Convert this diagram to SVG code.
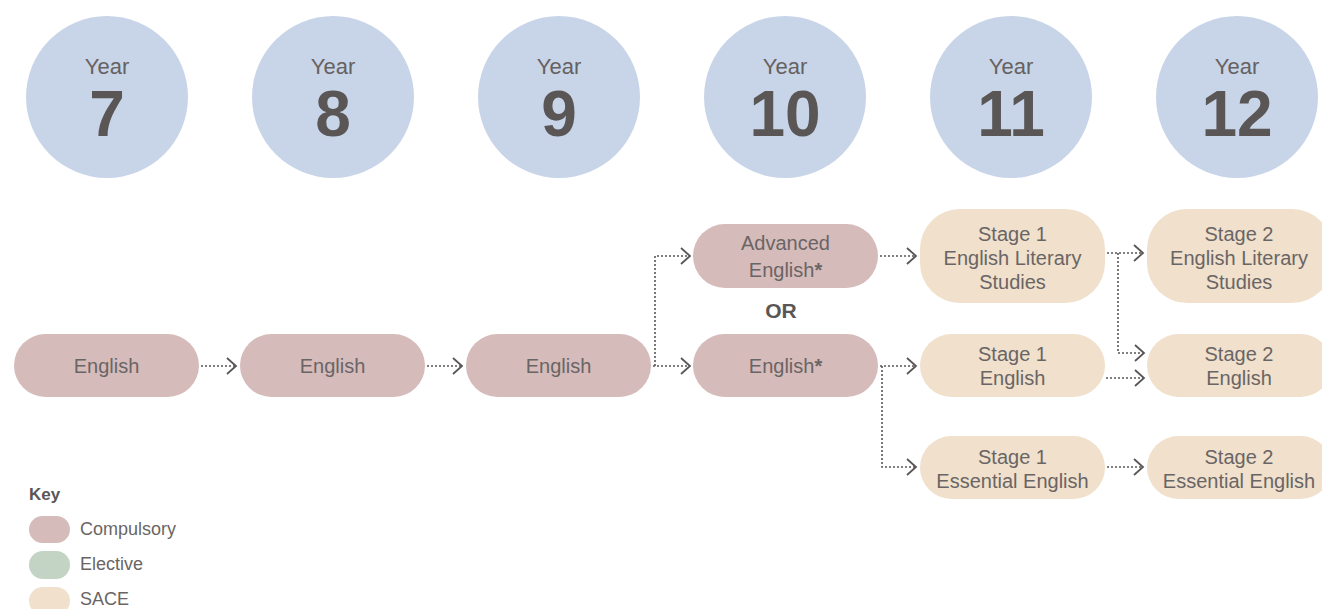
<svg xmlns="http://www.w3.org/2000/svg" width="1322" height="609" viewBox="0 0 1322 609">
<style>
.yc{fill:#c8d5e8}
.yl{font-family:"Liberation Sans",Arial,sans-serif;font-size:22px;fill:#666161;text-anchor:middle}
.yn{font-family:"Liberation Sans",Arial,sans-serif;font-size:64px;font-weight:bold;fill:#5a5656;text-anchor:middle}
.comp{fill:#d6bbbb}
.elec{fill:#c3d3c4}
.sace{fill:#f0e0cc}
.t{font-family:"Liberation Sans",Arial,sans-serif;font-size:20px;fill:#6a6565;text-anchor:middle}
.k{font-family:"Liberation Sans",Arial,sans-serif;font-size:18px;fill:#6a6565}
.c{fill:none;stroke:#5a5656;stroke-width:1.6;stroke-dasharray:2 2}
.ah{fill:none;stroke:#5a5656;stroke-width:1.8}
</style>
<defs>
<marker id="a" markerWidth="12" markerHeight="18" refX="10" refY="9" orient="auto" markerUnits="userSpaceOnUse">
<path d="M1,1 L10,9 L1,17" class="ah"/>
</marker>
</defs>
<g id="years">
<g id="y7"><circle class="yc" cx="107" cy="97" r="81"/><text class="yl" x="107" y="74">Year</text><text class="yn" x="107" y="136">7</text></g>
<g id="y8"><circle class="yc" cx="333" cy="97" r="81"/><text class="yl" x="333" y="74">Year</text><text class="yn" x="333" y="136">8</text></g>
<g id="y9"><circle class="yc" cx="559" cy="97" r="81"/><text class="yl" x="559" y="74">Year</text><text class="yn" x="559" y="136">9</text></g>
<g id="y10"><circle class="yc" cx="785" cy="97" r="81"/><text class="yl" x="785" y="74">Year</text><text class="yn" x="785" y="136">10</text></g>
<g id="y11"><circle class="yc" cx="1011" cy="97" r="81"/><text class="yl" x="1011" y="74">Year</text><text class="yn" x="1011" y="136">11</text></g>
<g id="y12"><circle class="yc" cx="1237" cy="97" r="81"/><text class="yl" x="1237" y="74">Year</text><text class="yn" x="1237" y="136">12</text></g>
</g>
<g id="connectors">
<path class="c" d="M201,366 H236" marker-end="url(#a)"/>
<path class="c" d="M427,366 H462" marker-end="url(#a)"/>
<path class="c" d="M653,366 H690" marker-end="url(#a)"/>
<path class="c" d="M655,366 V256 H690" marker-end="url(#a)"/>
<path class="c" d="M880,256 H916" marker-end="url(#a)"/>
<path class="c" d="M880,366 H916" marker-end="url(#a)"/>
<path class="c" d="M882,366 V467 H916" marker-end="url(#a)"/>
<path class="c" d="M1107,253 H1143" marker-end="url(#a)"/>
<path class="c" d="M1118,253 V353 H1144" marker-end="url(#a)"/>
<path class="c" d="M1106,378 H1144" marker-end="url(#a)"/>
<path class="c" d="M1107,467 H1143" marker-end="url(#a)"/>
</g>
<g id="n7"><rect class="comp" x="14" y="334" width="185" height="63" rx="31.5"/><text class="t" x="106.5" y="373">English</text></g>
<g id="n8"><rect class="comp" x="240" y="334" width="185" height="63" rx="31.5"/><text class="t" x="332.5" y="373">English</text></g>
<g id="n9"><rect class="comp" x="466" y="334" width="185" height="63" rx="31.5"/><text class="t" x="558.5" y="373">English</text></g>
<g id="n10a"><rect class="comp" x="693" y="224" width="185" height="64" rx="32"/><text class="t" x="785.5" y="250">Advanced</text><text class="t" x="785.5" y="277">English<tspan font-weight="bold">*</tspan></text></g>
<g id="or"><text x="781" y="318" font-family="Liberation Sans,Arial,sans-serif" font-size="21" font-weight="bold" fill="#5a5656" text-anchor="middle">OR</text></g>
<g id="n10b"><rect class="comp" x="693" y="334" width="185" height="63" rx="31.5"/><text class="t" x="785.5" y="373">English<tspan font-weight="bold">*</tspan></text></g>
<g id="n11a"><rect class="sace" x="920" y="209" width="185" height="94" rx="40"/><text class="t" x="1012.5" y="241">Stage 1</text><text class="t" x="1012.5" y="265">English Literary</text><text class="t" x="1012.5" y="289">Studies</text></g>
<g id="n11b"><rect class="sace" x="920" y="334" width="185" height="63" rx="31.5"/><text class="t" x="1012.5" y="361">Stage 1</text><text class="t" x="1012.5" y="385">English</text></g>
<g id="n11c"><rect class="sace" x="920" y="436" width="185" height="63" rx="31.5"/><text class="t" x="1012.5" y="464">Stage 1</text><text class="t" x="1012.5" y="488">Essential English</text></g>
<g id="n12a"><rect class="sace" x="1147" y="209" width="185" height="94" rx="40"/><text class="t" x="1239" y="241">Stage 2</text><text class="t" x="1239" y="265">English Literary</text><text class="t" x="1239" y="289">Studies</text></g>
<g id="n12b"><rect class="sace" x="1147" y="334" width="185" height="63" rx="31.5"/><text class="t" x="1239" y="361">Stage 2</text><text class="t" x="1239" y="385">English</text></g>
<g id="n12c"><rect class="sace" x="1147" y="436" width="185" height="63" rx="31.5"/><text class="t" x="1239" y="464">Stage 2</text><text class="t" x="1239" y="488">Essential English</text></g>
<g id="key">
<text x="29" y="500" font-family="Liberation Sans,Arial,sans-serif" font-size="17" font-weight="bold" fill="#5a5656">Key</text>
<rect class="comp" x="29" y="516" width="41" height="27" rx="13.5"/><text class="k" x="80" y="535">Compulsory</text>
<rect class="elec" x="29" y="551" width="41" height="28" rx="14"/><text class="k" x="80" y="570">Elective</text>
<rect class="sace" x="29" y="587" width="41" height="28" rx="14"/><text class="k" x="80" y="605">SACE</text>
</g>
</svg>
